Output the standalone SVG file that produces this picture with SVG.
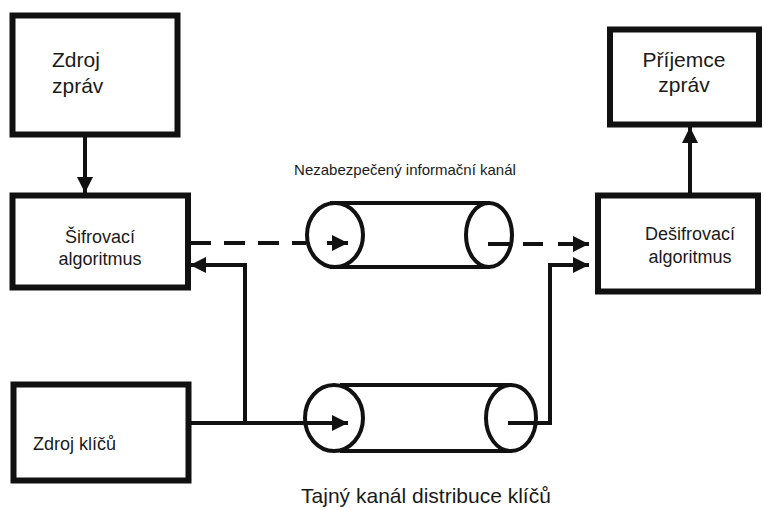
<svg xmlns="http://www.w3.org/2000/svg" width="764" height="510" viewBox="0 0 764 510">
<defs>
<style>
.box{fill:#fff;stroke:#111;stroke-width:6}
.t{font-family:"Liberation Sans",Arial,sans-serif;fill:#1a1a1a}
.ln{fill:none;stroke:#111;stroke-width:4}
.dash{fill:none;stroke:#111;stroke-width:4;stroke-dasharray:21 13}
.cyl{fill:none;stroke:#111;stroke-width:4}
</style>
<marker id="ah" markerUnits="userSpaceOnUse" markerWidth="16" markerHeight="16" refX="14" refY="7" orient="auto" viewBox="0 0 14 14">
<path d="M0,0 L14,7 L0,14 z" fill="#111"/>
</marker>
</defs>
<rect width="764" height="510" fill="#fff"/>

<g id="cyl-top">
<line class="cyl" x1="330" y1="203" x2="490" y2="203"/>
<line class="cyl" x1="330" y1="267" x2="490" y2="267"/>
<ellipse class="cyl" cx="335" cy="235" rx="28" ry="32"/>
<ellipse class="cyl" cx="489" cy="235" rx="23" ry="32"/>
</g>
<g id="cyl-bottom">
<line class="cyl" x1="340" y1="385" x2="512" y2="385"/>
<line class="cyl" x1="340" y1="451" x2="512" y2="451"/>
<ellipse class="cyl" cx="334" cy="418" rx="29" ry="33"/>
<ellipse class="cyl" cx="511" cy="418" rx="25" ry="33"/>
</g>

<g id="connectors">
<line class="ln" x1="85" y1="137" x2="85" y2="193" marker-end="url(#ah)"/>
<line class="ln" x1="690" y1="193" x2="690" y2="127" marker-end="url(#ah)"/>
<line class="dash" x1="190" y1="243" x2="306" y2="243"/>
<line class="ln" x1="327" y1="243" x2="348" y2="243" marker-end="url(#ah)"/>
<line class="ln" x1="488" y1="244" x2="510" y2="244"/>
<line class="ln" x1="523" y1="244" x2="543" y2="244"/>
<line class="ln" x1="558" y1="244" x2="589" y2="244" marker-end="url(#ah)"/>
<line class="ln" x1="190" y1="423" x2="348" y2="423" marker-end="url(#ah)"/>
<polyline class="ln" points="245,423 245,265 190,265" marker-end="url(#ah)"/>
<polyline class="ln" points="508,423 550,423 550,265 589,265" marker-end="url(#ah)"/>
</g>

<g id="zdroj-zprav">
<rect class="box" x="12.5" y="15.5" width="165" height="119"/>
<text class="t" x="52" y="67" font-size="21">Zdroj</text>
<text class="t" x="52" y="93" font-size="21">zpráv</text>
</g>
<g id="sifrovaci">
<rect class="box" x="12.5" y="195.5" width="175.5" height="92"/>
<text class="t" x="100" y="243" font-size="18" text-anchor="middle">Šifrovací</text>
<text class="t" x="100" y="265" font-size="18" text-anchor="middle">algoritmus</text>
</g>
<g id="zdroj-klicu">
<rect class="box" x="13.5" y="384.5" width="175" height="96"/>
<text class="t" x="33" y="450" font-size="18">Zdroj klíčů</text>
</g>
<g id="prijemce">
<rect class="box" x="610" y="29.5" width="149" height="95"/>
<text class="t" x="684" y="67" font-size="21" text-anchor="middle">Příjemce</text>
<text class="t" x="684" y="92" font-size="21" text-anchor="middle">zpráv</text>
</g>
<g id="desifrovaci">
<rect class="box" x="598" y="195.5" width="160" height="96"/>
<text class="t" x="690" y="240" font-size="18" text-anchor="middle">Dešifrovací</text>
<text class="t" x="690" y="263" font-size="18" text-anchor="middle">algoritmus</text>
</g>
<text class="t" x="405" y="175" font-size="15" text-anchor="middle">Nezabezpečený informační kanál</text>
<text class="t" x="426" y="503" font-size="21" text-anchor="middle">Tajný kanál distribuce klíčů</text>
</svg>
